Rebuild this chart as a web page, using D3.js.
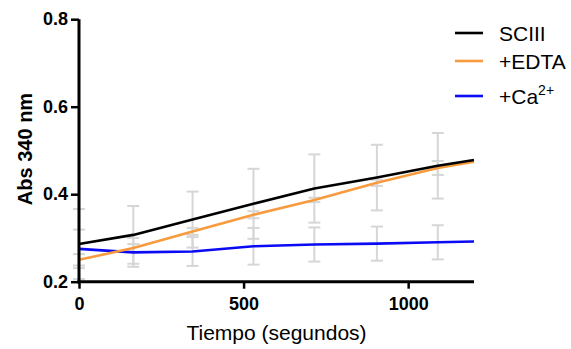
<!DOCTYPE html>
<html>
<head>
<meta charset="utf-8">
<script src="https://cdn.jsdelivr.net/npm/d3@7/dist/d3.min.js"></script>
<style>
  html, body { margin: 0; padding: 0; background: #fff; }
  svg { display: block; font-family: "Liberation Sans", Arial, sans-serif; }
</style>
</head>
<body>
<svg id="chart" width="571" height="349"></svg>
<script>
// Time points (seconds)
const times = [0, 165, 345, 530, 715, 905, 1090, 1200];

// Mean absorbance at 340 nm for each condition
const sciii = [0.286, 0.307, 0.342, 0.378, 0.413, 0.438, 0.465, 0.478];
const edta  = [0.250, 0.277, 0.315, 0.353, 0.387, 0.426, 0.460, 0.474];
const calc  = [0.275, 0.267, 0.269, 0.281, 0.285, 0.287, 0.290, 0.292];

// Standard deviations (the last time point has no bar)
const sciiiSd = [0.080, 0.066, 0.064, 0.080, 0.078, 0.075, 0.075, null];
const edtaSd  = [0.013, 0.009, 0.008, 0.008, 0.005, 0.007, 0.016, null];
const calcSd  = [0.044, 0.033, 0.033, 0.042, 0.039, 0.039, 0.039, null];

const xTicks = [0, 500, 1000];
const yTicks = [0.2, 0.4, 0.6, 0.8];

const seriesNames = ["SCIII", "+EDTA", "+Ca"];
const seriesColors = ["#000000", "#F79B3E", "#0A0AF5"];

const series = [
  { name: seriesNames[0], color: seriesColors[0], values: sciii, sd: sciiiSd },
  { name: seriesNames[1], color: seriesColors[1], values: edta,  sd: edtaSd },
  { name: seriesNames[2], color: seriesColors[2], values: calc,  sd: calcSd }
];

const svg = d3.select("#chart");
const x = d3.scaleLinear().domain([0, 1200]).range([79, 474]);
const y = d3.scaleLinear().domain([0.2, 0.8]).range([281.7, 19.2]);

// Error bars (drawn beneath the lines)
const eb = svg.append("g").attr("stroke", "#D6D6D6").attr("stroke-width", 2).attr("fill", "none");
series.slice().reverse().forEach(s => {
  s.values.forEach((v, i) => {
    const sd = s.sd[i];
    if (sd == null) return;
    const cx = x(times[i]);
    const y0 = y(v + sd), y1 = y(v - sd);
    eb.append("line").attr("x1", cx).attr("x2", cx).attr("y1", y0).attr("y2", y1);
    eb.append("line").attr("x1", cx - 6).attr("x2", cx + 6).attr("y1", y0).attr("y2", y0);
    eb.append("line").attr("x1", cx - 6).attr("x2", cx + 6).attr("y1", y1).attr("y2", y1);
  });
});

// Data lines
const line = d3.line().x((d, i) => x(times[i])).y(d => y(d));
[series[2], series[1], series[0]].forEach(s => {
  svg.append("path")
    .attr("d", line(s.values))
    .attr("fill", "none")
    .attr("stroke", s.color)
    .attr("stroke-width", 2.6)
    .attr("stroke-linejoin", "round");
});

// Axes
const xAxis = svg.append("g")
  .attr("transform", `translate(0,${y(0.2)})`)
  .call(d3.axisBottom(x).tickValues(xTicks).tickFormat(d3.format("d")).tickSizeOuter(0).tickSize(7).tickPadding(9));
const yAxis = svg.append("g")
  .attr("transform", `translate(${x(0)},0)`)
  .call(d3.axisLeft(y).tickValues(yTicks).tickFormat(d3.format(".1f")).tickSizeOuter(0).tickSize(8).tickPadding(3));

[xAxis, yAxis].forEach(a => {
  a.select(".domain").attr("stroke", "#000").attr("stroke-width", 3);
  a.selectAll(".tick line").attr("stroke", "#000").attr("stroke-width", 2.5);
  a.selectAll(".tick text")
    .attr("fill", "#000")
    .style("font-family", "'Liberation Sans', Arial, sans-serif")
    .style("font-weight", "bold")
    .style("font-size", "18px");
});
// extend axis lines so they meet at the corner
xAxis.select(".domain").attr("d", `M${-1.5 + x(0)},0H${x(1200)}`);
yAxis.select(".domain").attr("d", `M0,${1.5}V${y(0.8) - y(0.2) + 0}`).attr("transform", `translate(0,${y(0.2)})`);

// Axis titles
svg.append("text")
  .attr("x", 276.5).attr("y", 340)
  .attr("text-anchor", "middle")
  .style("font-size", "21px")
  .text("Tiempo (segundos)");

svg.append("text")
  .attr("transform", "translate(31.5,149) rotate(-90)")
  .attr("text-anchor", "middle")
  .style("font-size", "20px")
  .style("font-weight", "bold")
  .text("Abs 340 nm");

// Legend
const legendY = [33, 61, 96];
series.forEach((s, i) => {
  const g = svg.append("g").attr("transform", `translate(0,${legendY[i]})`);
  g.append("line").attr("x1", 455).attr("x2", 483).attr("y1", 0).attr("y2", 0)
    .attr("stroke", s.color).attr("stroke-width", 2.6);
  const t = g.append("text").attr("x", 499).attr("y", 7.5).style("font-size", "21px").text(s.name);
  if (i === 2) {
    t.append("tspan").attr("dy", -9).style("font-size", "14px").text("2+");
  }
});
</script>
</body>
</html>
